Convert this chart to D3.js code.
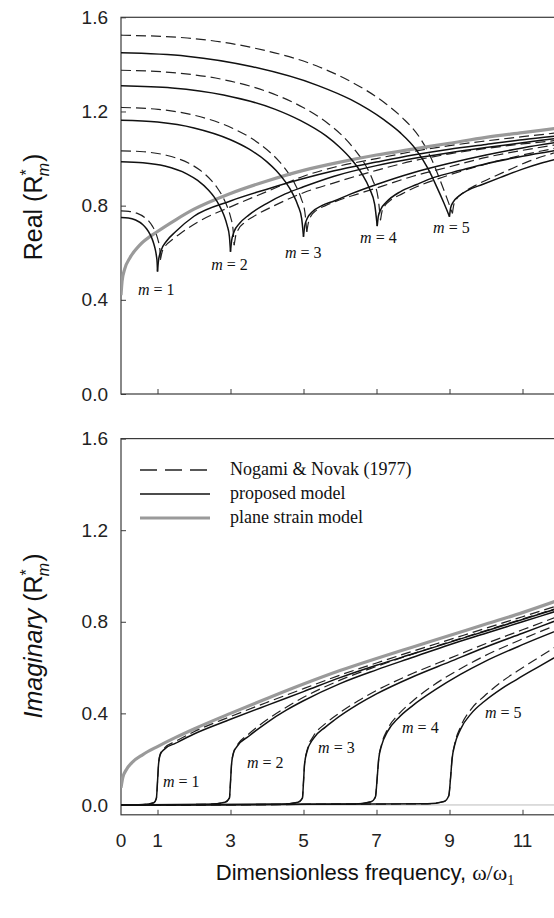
<!DOCTYPE html>
<html><head><meta charset="utf-8">
<script src="https://cdn.jsdelivr.net/npm/d3@7"></script>
<style>body{margin:0;background:#fff}svg{display:block}</style>
</head><body><svg id="c" width="554" height="918"></svg>
<script>
// ---------- DATA ----------
const modes = [1,2,3,4,5];
const xTicks = [1,3,5,7,9,11];
const xTickLabels = [0,1,3,5,7,9,11];
const yTicks = [0.0,0.4,0.8,1.2,1.6];
const legendLabels = ["Nogami & Novak (1977)","proposed model","plane strain model"];

// Real part, plane strain model
const realPlane = [[0,0.42],[0.03,0.48],[0.1,0.53],[0.25,0.58],[0.5,0.63],[1,0.69],[1.5,0.74],[2,0.785],[3,0.852],[4,0.905],[5,0.95],[6,0.985],[7,1.015],[8,1.04],[9,1.065],[10,1.09],[11,1.11],[12,1.13]];
// Real part, proposed model (solid): before and after cut-off
const realSolidPre = [
 [[0,0.75],[0.2,0.748],[0.4,0.739],[0.6,0.719],[0.7,0.702],[0.8,0.677],[0.85,0.66],[0.9,0.637],[0.94,0.613],[0.97,0.587],[0.99,0.559],[1.0,0.52]],
 [[0,0.986],[0.6,0.982],[1.2,0.968],[1.8,0.935],[2.1,0.907],[2.4,0.865],[2.55,0.837],[2.7,0.799],[2.82,0.759],[2.91,0.715],[2.97,0.669],[3.0,0.604]],
 [[0,1.163],[1,1.155],[2,1.13],[3,1.08],[3.5,1.041],[4,0.986],[4.25,0.949],[4.5,0.902],[4.7,0.852],[4.85,0.80],[4.95,0.745],[5.0,0.668]],
 [[0,1.309],[1.4,1.30],[2.81,1.27],[4.21,1.21],[4.91,1.162],[5.62,1.096],[5.97,1.051],[6.32,0.995],[6.6,0.935],[6.81,0.872],[6.95,0.805],[7.02,0.713]],
 [[0,1.449],[1.8,1.435],[3.6,1.39],[5.4,1.31],[6.3,1.25],[7.2,1.165],[7.65,1.11],[8.1,1.035],[8.4,0.96],[8.65,0.88],[8.85,0.81],[9.0,0.753]]
];
const realSolidPost = [
 [[1,0.52],[1.03,0.57],[1.1,0.61],[1.25,0.65],[1.5,0.69],[2,0.755],[3,0.82],[4,0.87],[5,0.915],[5.84,0.948],[7,0.985],[8,1.015],[9,1.04],[10,1.06],[11,1.08],[12,1.097]],
 [[3,0.604],[3.03,0.65],[3.1,0.69],[3.25,0.725],[3.5,0.76],[4,0.81],[4.5,0.85],[5,0.88],[5.84,0.925],[7,0.97],[8,1.0],[9,1.025],[10,1.047],[11,1.067],[12,1.087]],
 [[5,0.668],[5.03,0.71],[5.1,0.745],[5.25,0.775],[5.5,0.80],[5.84,0.82],[6.3,0.85],[7,0.89],[8,0.94],[9,0.98],[10,1.015],[11,1.045],[12,1.07]],
 [[7.02,0.713],[7.05,0.755],[7.12,0.785],[7.27,0.815],[7.66,0.86],[8.1,0.89],[8.58,0.92],[9.3,0.95],[10,0.978],[11,1.01],[12,1.037]],
 [[9,0.753],[9.03,0.79],[9.1,0.815],[9.25,0.84],[9.5,0.865],[9.9,0.89],[10.4,0.92],[11,0.955],[11.5,0.98],[12,1.0]]
];
// Real part, Nogami & Novak (dashed)
const realDashPre = [
 [[0,0.778],[0.216,0.776],[0.432,0.768],[0.648,0.75],[0.756,0.735],[0.864,0.712],[0.918,0.697],[0.972,0.676],[1.015,0.654],[1.048,0.631],[1.069,0.605],[1.08,0.57]],
 [[0,1.033],[0.62,1.029],[1.24,1.014],[1.86,0.98],[2.17,0.95],[2.48,0.906],[2.635,0.876],[2.79,0.837],[2.914,0.794],[3.007,0.749],[3.069,0.70],[3.1,0.632]],
 [[0,1.217],[1.018,1.209],[2.036,1.183],[3.054,1.129],[3.563,1.087],[4.072,1.028],[4.327,0.989],[4.581,0.939],[4.785,0.886],[4.937,0.83],[5.039,0.771],[5.09,0.689]],
 [[0,1.375],[1.422,1.365],[2.844,1.334],[4.266,1.269],[4.977,1.218],[5.688,1.147],[6.044,1.10],[6.399,1.039],[6.683,0.976],[6.897,0.908],[7.039,0.837],[7.11,0.738]],
 [[0,1.524],[1.816,1.512],[3.632,1.47],[5.448,1.388],[6.356,1.322],[7.264,1.232],[7.718,1.172],[8.172,1.092],[8.472,1.01],[8.726,0.915],[8.926,0.833],[9.08,0.767]]
];
const realDashPost = [
 [[1.08,0.57],[1.12,0.60],[1.2,0.625],[1.4,0.655],[1.7,0.69],[2.1,0.73],[3,0.795],[4,0.86],[5,0.925],[5.84,0.963],[7,1.0],[8,1.03],[9,1.055],[10,1.075],[11,1.093],[12,1.11]],
 [[3.1,0.632],[3.14,0.67],[3.22,0.70],[3.4,0.73],[3.7,0.76],[4.2,0.80],[5,0.855],[5.84,0.897],[7,0.95],[8,0.99],[9,1.02],[10,1.043],[11,1.062],[12,1.078]],
 [[5.09,0.689],[5.13,0.725],[5.2,0.755],[5.35,0.78],[5.6,0.80],[6,0.825],[6.5,0.85],[7.2,0.885],[8,0.925],[9,0.965],[10,1.005],[11,1.035],[12,1.06]],
 [[7.11,0.738],[7.15,0.775],[7.23,0.80],[7.4,0.825],[7.7,0.85],[8.1,0.88],[8.7,0.915],[9.4,0.95],[10.2,0.985],[11,1.015],[12,1.047]],
 [[9.08,0.767],[9.12,0.805],[9.2,0.83],[9.38,0.855],[9.7,0.885],[10.1,0.915],[10.6,0.95],[11.2,0.99],[12,1.03]]
];

// Imaginary part
const imagPlane = [[0,0.075],[0.05,0.12],[0.15,0.155],[0.3,0.185],[0.6,0.22],[1,0.255],[1.5,0.295],[2,0.332],[3,0.40],[4,0.465],[5,0.528],[6,0.587],[7,0.64],[8,0.69],[9,0.74],[10,0.79],[11,0.84],[12,0.895]];
const imagSolid = [
 [[0,0],[0.6,0.002],[0.9,0.01],[0.97,0.03],[1.0,0.1],[1.03,0.18],[1.08,0.222],[1.2,0.245],[1.5,0.27],[2,0.31],[3,0.374],[4,0.435],[5,0.495],[6,0.556],[7,0.61],[8,0.66],[9,0.71],[10,0.76],[11,0.81],[12,0.86]],
 [[0,0],[2.4,0.003],[2.85,0.012],[2.97,0.03],[3.0,0.1],[3.03,0.18],[3.08,0.225],[3.17,0.254],[3.5,0.30],[4,0.36],[4.54,0.415],[5,0.455],[6,0.53],[7,0.59],[8,0.645],[9,0.70],[10,0.75],[11,0.80],[12,0.85]],
 [[0,0],[4.4,0.003],[4.85,0.012],[4.97,0.03],[5.0,0.1],[5.03,0.18],[5.1,0.235],[5.27,0.29],[5.6,0.34],[5.84,0.37],[6.5,0.44],[7,0.485],[8,0.56],[9,0.625],[10,0.69],[11,0.75],[12,0.81]],
 [[0,0],[6.4,0.004],[6.85,0.014],[6.97,0.035],[7.02,0.12],[7.06,0.20],[7.14,0.26],[7.3,0.32],[7.6,0.38],[8,0.435],[8.58,0.50],[9.3,0.57],[9.95,0.625],[11,0.70],[12,0.765]],
 [[0,0],[8.4,0.005],[8.85,0.015],[8.98,0.04],[9.03,0.12],[9.07,0.20],[9.14,0.26],[9.3,0.33],[9.6,0.40],[9.95,0.452],[10.4,0.505],[10.86,0.55],[11.4,0.60],[12,0.655]]
];
const imagDash = [
 [[0,0],[0.6,0.002],[0.9,0.01],[0.97,0.03],[1.0,0.1],[1.03,0.18],[1.08,0.225],[1.2,0.25],[1.5,0.278],[2,0.32],[3,0.386],[4,0.448],[5,0.508],[6,0.567],[7,0.62],[8,0.672],[9,0.722],[10,0.772],[11,0.822],[12,0.872]],
 [[0,0],[2.4,0.003],[2.85,0.012],[2.97,0.03],[3.0,0.1],[3.03,0.18],[3.08,0.228],[3.17,0.258],[3.5,0.31],[4,0.372],[4.54,0.428],[5,0.47],[6,0.545],[7,0.605],[8,0.66],[9,0.712],[10,0.762],[11,0.812],[12,0.862]],
 [[0,0],[4.4,0.003],[4.85,0.012],[4.97,0.03],[5.0,0.1],[5.03,0.18],[5.1,0.24],[5.27,0.30],[5.6,0.355],[5.84,0.385],[6.5,0.455],[7,0.50],[8,0.575],[9,0.64],[10,0.705],[11,0.765],[12,0.825]],
 [[0,0],[6.4,0.004],[6.85,0.014],[6.97,0.035],[7.02,0.12],[7.06,0.20],[7.14,0.265],[7.3,0.33],[7.6,0.395],[8,0.455],[8.58,0.525],[9.3,0.595],[9.95,0.65],[11,0.725],[12,0.79]],
 [[0,0],[8.4,0.005],[8.85,0.015],[8.98,0.04],[9.03,0.12],[9.07,0.20],[9.14,0.265],[9.3,0.34],[9.6,0.42],[9.95,0.475],[10.4,0.535],[10.86,0.585],[11.4,0.64],[12,0.70]]
];

// m-label anchor values (left x, centre y) in data units
const realLabelPos = [[0.466,0.441],[2.47,0.548],[4.49,0.598],[6.55,0.662],[8.55,0.705]];
const imagLabelPos = [[1.15,0.10],[3.45,0.183],[5.4,0.248],[7.7,0.335],[9.97,0.40]];

// ---------- DRAW ----------
const svg = d3.select("#c");
const left = 121, rightX = 559;
const x = d3.scaleLinear().domain([0,12]).range([left, rightX]);
const yTop = d3.scaleLinear().domain([0,1.6]).range([394,17.3]);
const yBot = d3.scaleLinear().domain([-0.043,1.6]).range([814.8,438.6]);

const sans = "'Liberation Sans', Arial, sans-serif";
const serif = "'Liberation Serif', 'Times New Roman', serif";
const axisColor = "#3a3a3a";

function panel(y, id) {
  const [b, t] = y.range();
  svg.append("clipPath").attr("id", id).append("rect")
    .attr("x", left).attr("y", t).attr("width", rightX-left).attr("height", b-t);
  const g = svg.append("g");
  const ya = d3.axisLeft(y).tickValues(yTicks).tickSize(-5).tickPadding(13).tickFormat(d3.format(".1f"));
  const gy = g.append("g").attr("transform", `translate(${left},0)`).call(ya);
  gy.select(".domain").remove();
  gy.selectAll("line").attr("stroke", axisColor);
  gy.selectAll("text").attr("font-family", sans).attr("font-size", 19).attr("fill", "#222");
  const xa = d3.axisBottom(x).tickValues(xTicks).tickSize(-5).tickFormat("");
  const gx = g.append("g").attr("transform", `translate(0,${b})`).call(xa);
  gx.select(".domain").remove();
  gx.selectAll("line").attr("stroke", axisColor);
  g.append("rect").attr("x", left).attr("y", t).attr("width", rightX-left).attr("height", b-t)
    .attr("fill","none").attr("stroke", axisColor).attr("stroke-width",1.2);
  return g.append("g").attr("clip-path", `url(#${id})`);
}

const lineTop = d3.line().x(d=>x(d[0])).y(d=>yTop(d[1])).curve(d3.curveMonotoneX);
const lineBot = d3.line().x(d=>x(d[0])).y(d=>yBot(d[1])).curve(d3.curveMonotoneX);

function drawSolid(g, ln, data){ g.append("path").attr("d", ln(data)).attr("fill","none").attr("stroke","#111").attr("stroke-width",1.5); }
function drawDash(g, ln, data){ g.append("path").attr("d", ln(data)).attr("fill","none").attr("stroke","#222").attr("stroke-width",1.2).attr("stroke-dasharray","10,5"); }
function drawGray(g, ln, data){ g.append("path").attr("d", ln(data)).attr("fill","none").attr("stroke","#9a9a9a").attr("stroke-width",3.2); }

// Top panel
const gT = panel(yTop, "clipT");
modes.forEach((m,i)=>{
  drawDash(gT, lineTop, realDashPre[i]);
  drawDash(gT, lineTop, realDashPost[i]);
});
drawGray(gT, lineTop, realPlane);
modes.forEach((m,i)=>{
  drawSolid(gT, lineTop, realSolidPre[i]);
  drawSolid(gT, lineTop, realSolidPost[i]);
});

// Bottom panel
const gB = panel(yBot, "clipB");
gB.append("line").attr("x1", x(0)).attr("x2", x(12)).attr("y1", yBot(0)).attr("y2", yBot(0)).attr("stroke","#bbb").attr("stroke-width",1);
drawGray(gB, lineBot, imagPlane);
modes.forEach((m,i)=>{ drawDash(gB, lineBot, imagDash[i]); });
modes.forEach((m,i)=>{ drawSolid(gB, lineBot, imagSolid[i]); });

// m labels
function mLabel(px, py, m){
  const t = svg.append("text").attr("x", px).attr("y", py).attr("font-family", serif).attr("font-size", 16).attr("fill","#111");
  t.append("tspan").attr("font-style","italic").text("m");
  t.append("tspan").text(" = " + m);
}
modes.forEach((m,i)=>{
  mLabel(x(realLabelPos[i][0]), yTop(realLabelPos[i][1]) + 5, m);
  mLabel(x(imagLabelPos[i][0]), yBot(imagLabelPos[i][1]) + 5, m);
});

// x tick labels (bottom panel)
svg.append("g").selectAll("text").data(xTickLabels).join("text")
  .attr("x", d=>x(d)).attr("y", 847).attr("text-anchor","middle")
  .attr("font-family", sans).attr("font-size", 19).attr("fill","#222").text(d=>d);

// x axis title
const xt = svg.append("text").attr("x", 365).attr("y", 880).attr("text-anchor","middle")
  .attr("font-family", sans).attr("font-size", 22).attr("fill","#111");
xt.append("tspan").text("Dimensionless frequency,  ");
xt.append("tspan").attr("font-family", serif).text("ω/ω");
xt.append("tspan").attr("font-family", serif).attr("font-size", 14).attr("dy", 5).text("1");

// y axis titles
function yTitle(cy, first, italic){
  const t = svg.append("text").attr("transform", `translate(42,${cy}) rotate(-90)`).attr("text-anchor","middle")
    .attr("font-family", sans).attr("font-size", 25).attr("fill","#111");
  t.append("tspan").attr("font-style", italic ? "italic" : "normal").text(first);
  t.append("tspan").text(" (R");
  t.append("tspan").attr("font-size", 16).attr("dy", -10).text("*");
  t.append("tspan").attr("font-size", 16).attr("font-style","italic").attr("dx", -7).attr("dy", 17).text("m");
  t.append("tspan").attr("dx", 1).attr("dy", -7).text(")");
}
yTitle(207, "Real", false);
yTitle(636, "Imaginary", true);

// legend
const lg = svg.append("g");
const legY = [470, 494, 518];
const legStyles = [
  {stroke:"#222", w:1.3, dash:"17,8"},
  {stroke:"#111", w:1.6, dash:null},
  {stroke:"#9a9a9a", w:3.2, dash:null}
];
legendLabels.forEach((lab,i)=>{
  const l = lg.append("line").attr("x1",140).attr("x2",210).attr("y1",legY[i]).attr("y2",legY[i])
    .attr("stroke",legStyles[i].stroke).attr("stroke-width",legStyles[i].w);
  if (legStyles[i].dash) l.attr("stroke-dasharray", legStyles[i].dash);
  lg.append("text").attr("x",230).attr("y",legY[i]+5).attr("font-family",serif).attr("font-size",18).attr("fill","#111").text(lab);
});
</script></body></html>
